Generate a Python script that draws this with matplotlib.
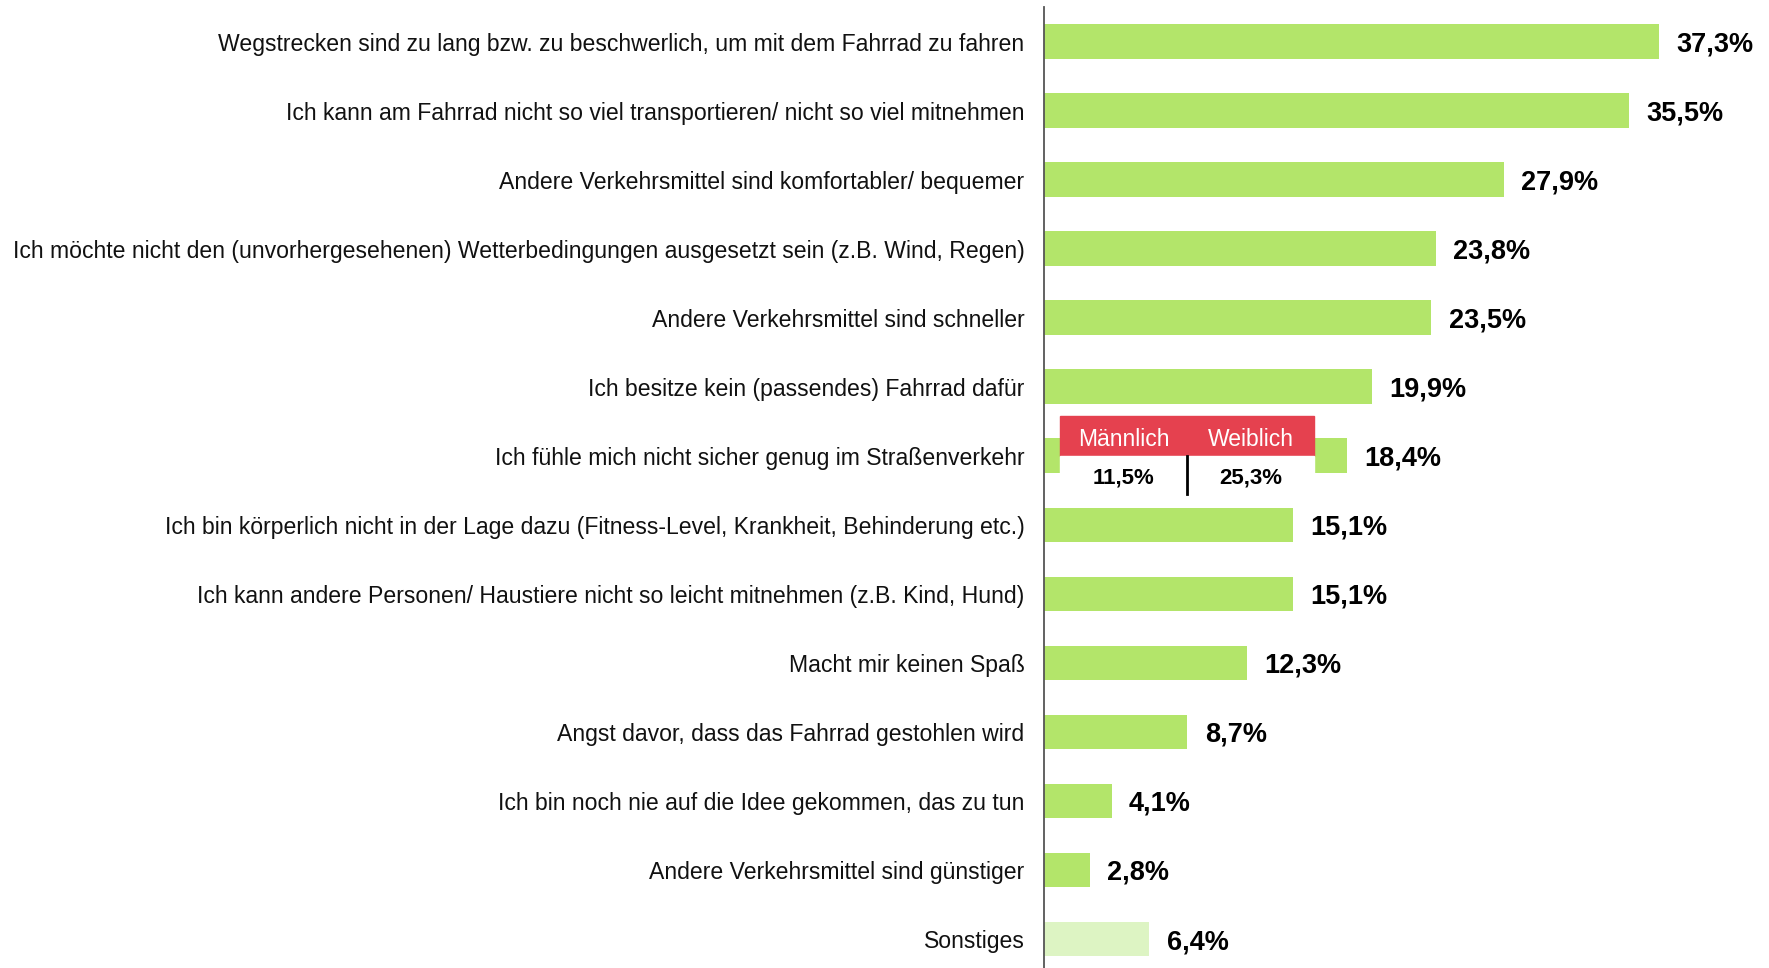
import matplotlib.pyplot as plt
from matplotlib.patches import Rectangle

plt.rcParams['font.family'] = ['Liberation Sans', 'DejaVu Sans']

categories = [
    "Wegstrecken sind zu lang bzw. zu beschwerlich, um mit dem Fahrrad zu fahren",
    "Ich kann am Fahrrad nicht so viel transportieren/ nicht so viel mitnehmen",
    "Andere Verkehrsmittel sind komfortabler/ bequemer",
    "Ich möchte nicht den (unvorhergesehenen) Wetterbedingungen ausgesetzt sein (z.B. Wind, Regen)",
    "Andere Verkehrsmittel sind schneller",
    "Ich besitze kein (passendes) Fahrrad dafür",
    "Ich fühle mich nicht sicher genug im Straßenverkehr",
    "Ich bin körperlich nicht in der Lage dazu (Fitness-Level, Krankheit, Behinderung etc.)",
    "Ich kann andere Personen/ Haustiere nicht so leicht mitnehmen (z.B. Kind, Hund)",
    "Macht mir keinen Spaß",
    "Angst davor, dass das Fahrrad gestohlen wird",
    "Ich bin noch nie auf die Idee gekommen, das zu tun",
    "Andere Verkehrsmittel sind günstiger",
    "Sonstiges",
]
values = [37.3, 35.5, 27.9, 23.8, 23.5, 19.9, 18.4, 15.1, 15.1, 12.3, 8.7, 4.1, 2.8, 6.4]

# split for "sicher genug im Straßenverkehr"
gender_labels = ["Männlich", "Weiblich"]
gender_values = [11.5, 25.3]

GREEN = '#b3e56a'
LIGHT = '#ddf4c3'
RED = '#e5414f'

fig = plt.figure(figsize=(17.69, 9.68), dpi=100)
ax = fig.add_axes([1044 / 1769, 0, 1 - 1044 / 1769, 1 - 7 / 968])

colors = [GREEN] * (len(values) - 1) + [LIGHT]
ypos = list(range(len(values)))
ax.barh(ypos, values, height=0.5, color=colors)

ax.set_xlim(0, 44.0)
ax.set_ylim(13.42, -0.5)

for y, v in zip(ypos, values):
    ax.text(v + 1.05, y, f"{v:.1f}%".replace('.', ','), va='center_baseline', ha='left',
            fontsize=19.5, fontweight='bold', color='black')

ax.set_yticks(ypos)
ax.set_yticklabels(categories, fontsize=16.6, color='#111111')
ax.tick_params(axis='y', length=0, pad=14)
ax.set_xticks([])
for s in ['top', 'right', 'bottom']:
    ax.spines[s].set_visible(False)
ax.spines['left'].set_color('#555555')
ax.spines['left'].set_linewidth(1.3)

# gender breakdown box
row = categories.index("Ich fühle mich nicht sicher genug im Straßenverkehr")
x0, x1, xm = 1.0, 16.4, 8.7
ax.add_patch(Rectangle((x0, row - 0.58), x1 - x0, 0.58, color=RED, zorder=3))
ax.add_patch(Rectangle((x0, row), x1 - x0, 0.54, color='white', zorder=3))
ax.plot([xm, xm], [row, row + 0.55], color='black', lw=2, zorder=4)
for cx, lab, val in zip([(x0 + xm) / 2, (xm + x1) / 2], gender_labels, gender_values):
    ax.text(cx, row - 0.27, lab, ha='center', va='center_baseline', color='white',
            fontsize=16.5, zorder=5)
    ax.text(cx, row + 0.28, f"{val:.1f}%".replace('.', ','), ha='center',
            va='center_baseline', color='black', fontsize=16, fontweight='bold', zorder=5)

fig.savefig('out.png', dpi=100)
